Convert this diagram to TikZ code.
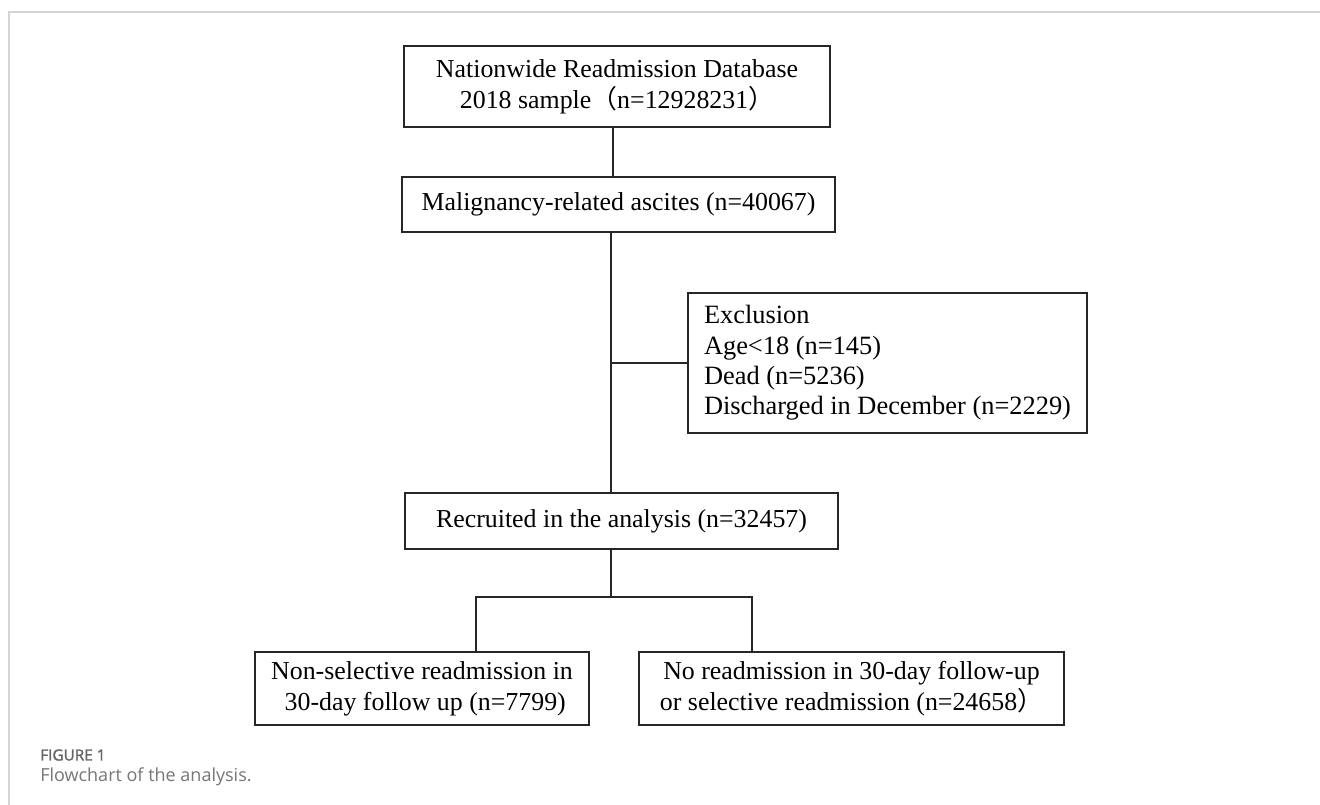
\documentclass[tikz,border=0pt]{standalone}
\usepackage{fontspec}
\setmainfont{Liberation Serif}
\newfontfamily\cjk{Noto Sans CJK SC}
\newfontfamily\capfont{Open Sans}
\newfontfamily\capsemi[FakeBold=1.8]{Open Sans}
\definecolor{framegray}{HTML}{D4D4D4}
\definecolor{capgray}{HTML}{767676}
\definecolor{capdark}{HTML}{666666}
\begin{document}
\begin{tikzpicture}[x=0.75pt,y=-0.75pt,
  box/.style={draw=black!85, line width=0.9pt, inner sep=0pt, outer sep=0pt,
    font=\fontsize{19.4}{23}\selectfont, align=center},
  link/.style={draw=black!85, line width=0.9pt}]
\useasboundingbox (0,0) rectangle (1320,805);
\fill[white] (0,0) rectangle (1320,805);
% page frame
\draw[framegray, line width=1.5pt] (9,805) -- (9,12.5) -- (1320,12.5);

\node[box, minimum width=319.5pt, minimum height=60.75pt] (top) at (617,86.5)
  {Nationwide Readmission Database\\[0.2pt]
   2018 sample{\cjk （}n=12928231{\cjk ）}};
\node[box, minimum width=324.75pt, minimum height=41.25pt] (mra) at (618.5,204.5)
  {Malignancy-related ascites (n=40067)};
\node[box, minimum width=299.25pt, minimum height=105pt, align=left,
      font=\fontsize{19.8}{22.8}\selectfont] (excl) at (887.5,363)
  {Exclusion\\
   Age<18 (n=145)\\
   Dead (n=5236)\\
   Discharged in December (n=2229)};
\node[box, minimum width=324.75pt, minimum height=42pt] (rec) at (621.5,521)
  {Recruited in the analysis (n=32457)};
\node[box, minimum width=250.5pt, minimum height=54.75pt] (nonsel) at (422,688.5)
  {Non-selective readmission in\\
   \ 30-day follow up (n=7799)};
\node[box, minimum width=318.75pt, minimum height=54.75pt] (nore) at (851.5,688.5)
  {No readmission in 30-day follow-up\\
   or selective readmission (n=24658{\cjk ）}};

\coordinate (sp1) at (613,0);
\coordinate (sp2) at (611,0);
\coordinate (fork) at (611,597);
\coordinate (lt) at (476,597);
\coordinate (rt) at (752,597);

\draw[link] (top.south -| sp1) -- (mra.north -| sp1);
\draw[link] (mra.south -| sp2) -- (rec.north -| sp2);
\draw[link] (excl.west) -- (excl.west -| sp2);
\draw[link] (rec.south -| sp2) -- (fork);
\draw[link] (nonsel.north -| lt) -- (lt) -- (rt) -- (nore.north -| rt);

\node[anchor=west, inner sep=0pt, font=\capsemi\fontsize{11.5}{13}\selectfont, text=capdark] (figno) at (40,755) {FIGURE 1};
\node[anchor=west, inner sep=0pt, font=\capfont\fontsize{13.5}{15}\selectfont, text=capgray] (figcap) at (40,777) {Flowchart of the analysis.};
\end{tikzpicture}
\end{document}
